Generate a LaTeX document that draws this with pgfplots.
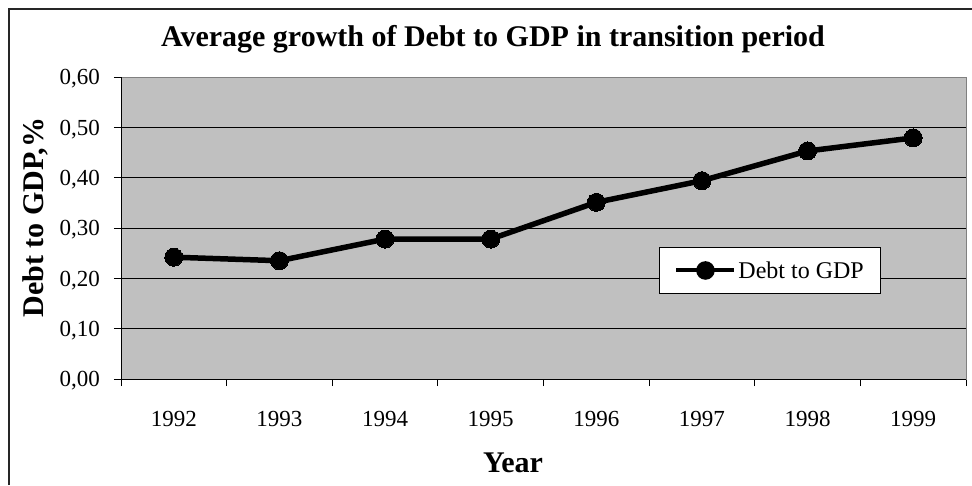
\documentclass[border=0pt]{standalone}
\usepackage{fontspec}
\setmainfont{Liberation Serif}
\usepackage{pgfplots}
\pgfplotsset{compat=1.18}
\definecolor{plotgray}{HTML}{C0C0C0}
\definecolor{framegray}{HTML}{808080}
\begin{document}
\begin{tikzpicture}[x=1pt,y=1pt]
\useasboundingbox (0,0) rectangle (972,485);
\draw[line width=1.2pt, black!85] (9,0) -- (9,476) -- (972,476);
\begin{axis}[
  at={(121pt,106pt)}, anchor=south west,
  scale only axis, width=845pt, height=302pt,
  xmin=-0.5, xmax=7.5, ymin=0, ymax=0.6,
  axis background/.style={fill=plotgray},
  axis line style={draw=framegray, line width=1pt},
  xtick={0,1,2,3,4,5,6,7},
  xticklabels={1992,1993,1994,1995,1996,1997,1998,1999},
  major x tick style={draw=none},
  minor xtick={-0.5,0.5,1.5,2.5,3.5,4.5,5.5,6.5,7.5},
  minor x tick style={black, line width=0.9pt},
  ytick={0,0.1,0.2,0.3,0.4,0.5,0.6},
  major y tick style={black, line width=0.9pt},
  tick align=outside,
  major tick length=7pt, minor tick length=7pt,
  xtick pos=bottom, ytick pos=left,
  ymajorgrids, major grid style={black, line width=0.9pt},
  /pgf/number format/.cd, fixed, fixed zerofill, precision=2, use comma, assume math mode=true,
  /pgfplots/.cd,
  tick label style={font=\fontsize{23}{23}\selectfont},
  xticklabel style={anchor=base, yshift=-40pt},
  yticklabel style={anchor=east, inner sep=0pt, xshift=-14pt, yshift=-2pt},
  legend style={at={(axis description cs:0.6367,0.2815)}, anchor=south west,
    draw=black, line width=0.9pt, fill=white,
    inner xsep=15pt, inner ysep=12pt,
    font=\fontsize{24}{24}\selectfont},
  legend cell align=left,
  legend image code/.code={
    \draw[line width=4pt] (0pt,0pt) -- (58pt,0pt);
    \fill (29pt,0pt) circle (6.5pt);
  },
]
\addplot[black, line width=5.5pt, mark=*, mark size=9pt, mark options={fill=black, line width=0pt}]
  coordinates {(0,0.242) (1,0.235) (2,0.278) (3,0.278) (4,0.351) (5,0.394) (6,0.453) (7,0.479)};
\addlegendentry{Debt to GDP}
\draw[black, line width=1pt] (rel axis cs:0,1) -- (rel axis cs:0,0) -- (rel axis cs:1,0);
\end{axis}
\node[anchor=base, font=\bfseries\fontsize{30}{30}\selectfont] at (493,438) {Average growth of Debt to GDP in transition period};
\node[anchor=base, rotate=90, font=\bfseries\fontsize{30}{30}\selectfont] at (43,267.5) {Debt to GDP,\%};
\node[anchor=base, font=\bfseries\fontsize{30}{30}\selectfont] at (513,13) {Year};
\end{tikzpicture}
\end{document}
